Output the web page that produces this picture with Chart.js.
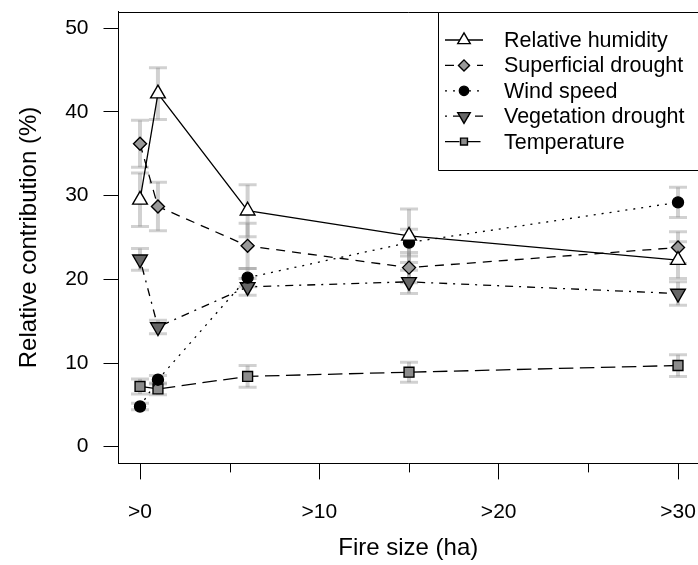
<!DOCTYPE html>
<html>
<head>
<meta charset="utf-8">
<script src="https://cdn.jsdelivr.net/npm/chart.js@4.4.1/dist/chart.umd.min.js"></script>
<style>
  html, body { margin: 0; padding: 0; background: #fff; overflow: hidden; }
  #wrap { width: 698px; height: 565px; }
</style>
</head>
<body>
<div id="wrap"><canvas id="fireChart" width="698" height="565"></canvas></div>
<script>
// --- datos ---
const fireSize = [0, 1, 6, 15, 30];
const xTicks = [0, 10, 20, 30];
const xMinorTicks = [5, 15, 25];
const yTicks = [0, 10, 20, 30, 40, 50];

const relHumidity        = [29.5, 42.2, 28.2, 25.2, 22.3];
const relHumidityErr     = [3.2, 3.1, 3.1, 3.2, 2.2];
const superficialDrought = [36.2, 28.7, 24.0, 21.4, 23.8];
const superficialErr     = [2.8, 2.9, 2.7, 1.8, 1.9];
const windSpeed          = [4.8, 8.0, 20.2, 24.4, 29.2];
const windSpeedErr       = [0.4, 0.5, 1.1, 1.6, 1.8];
const vegetationDrought  = [22.4, 14.3, 19.1, 19.7, 18.3];
const vegetationErr      = [1.3, 0.8, 1.0, 1.4, 1.4];
const temperature        = [7.2, 6.9, 8.4, 8.9, 9.7];
const temperatureErr     = [0.9, 0.7, 1.3, 1.2, 1.3];

const FONT = 'Liberation Sans, Arial, Helvetica, sans-serif';
Chart.defaults.color = '#000';
Chart.defaults.font.family = FONT;

function serie(label, values, errors, style) {
    return Object.assign({
        label: label,
        data: fireSize.map((x, i) => ({ x: x, y: values[i] })),
        errors: errors,
        showLine: true,
        borderColor: '#000',
        borderWidth: 1.3,
        pointBorderColor: '#000',
        pointBorderWidth: 1.4,
        tension: 0,
        fill: false
    }, style);
}

const datasets = [
    serie('Relative humidity', relHumidity, relHumidityErr,
        { borderDash: [], pointStyle: 'triangle', pointRadius: 8.5, pointBackgroundColor: '#fff', legendScale: 0.85 }),
    serie('Superficial drought', superficialDrought, superficialErr,
        { borderDash: [9, 7], pointStyle: 'rectRot', pointRadius: 6.5, pointBackgroundColor: '#999', legendScale: 0.85 }),
    serie('Wind speed', windSpeed, windSpeedErr,
        { borderDash: [2, 6], pointStyle: 'circle', pointRadius: 5.5, pointBackgroundColor: '#000', legendScale: 0.85 }),
    serie('Vegetation drought', vegetationDrought, vegetationErr,
        { borderDash: [2, 6, 8, 6], pointStyle: 'triangle', pointRotation: 180, pointRadius: 8.5, pointBackgroundColor: '#666', legendScale: 0.85 }),
    serie('Temperature', temperature, temperatureErr,
        { borderDash: [14.5, 6.5], pointStyle: 'rect', pointRadius: 7, pointBackgroundColor: '#8c8c8c', legendScale: 0.7 })
];

// barras de error grises debajo de las lineas
const errorBars = {
    id: 'errorBars',
    beforeDatasetsDraw(chart) {
        const ctx = chart.ctx;
        const xs = chart.scales.x, ys = chart.scales.y;
        ctx.save();
        ctx.strokeStyle = 'rgba(140,140,140,0.4)';
        chart.data.datasets.forEach(ds => {
            ds.data.forEach((p, i) => {
                const e = ds.errors[i];
                const px = xs.getPixelForValue(p.x);
                const top = ys.getPixelForValue(p.y + e);
                const bot = ys.getPixelForValue(p.y - e);
                ctx.lineWidth = 4;
                ctx.beginPath();
                ctx.moveTo(px, top);
                ctx.lineTo(px, bot);
                ctx.stroke();
                ctx.lineWidth = 3;
                ctx.beginPath();
                ctx.moveTo(px - 9, top); ctx.lineTo(px + 9, top);
                ctx.moveTo(px - 9, bot); ctx.lineTo(px + 9, bot);
                ctx.stroke();
            });
        });
        ctx.restore();
    }
};

// marco superior, ticks menores y leyenda
const frameAndLegend = {
    id: 'frameAndLegend',
    afterDraw(chart) {
        const ctx = chart.ctx;
        const area = chart.chartArea;
        const xs = chart.scales.x;
        ctx.save();
        ctx.strokeStyle = '#000';
        ctx.lineWidth = 1;
        ctx.beginPath();
        ctx.moveTo(area.left, Math.round(area.top) + 0.5);
        ctx.lineTo(area.right, Math.round(area.top) + 0.5);
        xMinorTicks.forEach(v => {
            const px = Math.round(xs.getPixelForValue(v)) + 0.5;
            ctx.moveTo(px, area.bottom);
            ctx.lineTo(px, area.bottom + 9);
        });
        ctx.stroke();

        // leyenda
        const boxLeft = 438.5, boxTop = Math.round(area.top) + 0.5, boxBottom = 170.5;
        ctx.fillStyle = '#fff';
        ctx.fillRect(boxLeft, boxTop, 698 - boxLeft, boxBottom - boxTop);
        ctx.beginPath();
        ctx.moveTo(700, boxTop);
        ctx.lineTo(boxLeft, boxTop);
        ctx.lineTo(boxLeft, boxBottom);
        ctx.lineTo(700, boxBottom);
        ctx.stroke();

        ctx.font = '21.5px ' + FONT;
        ctx.textBaseline = 'middle';
        ctx.textAlign = 'left';
        chart.data.datasets.forEach((ds, i) => {
            const y = 40 + i * 25.4;
            ctx.strokeStyle = '#000';
            ctx.lineWidth = ds.borderWidth;
            ctx.setLineDash(ds.borderDash);
            ctx.beginPath();
            ctx.moveTo(445, y);
            ctx.lineTo(483, y);
            ctx.stroke();
            ctx.setLineDash([]);
            ctx.fillStyle = ds.pointBackgroundColor;
            ctx.lineWidth = ds.pointBorderWidth;
            Chart.helpers.drawPoint(ctx, {
                pointStyle: ds.pointStyle,
                rotation: ds.pointRotation || 0,
                radius: ds.pointRadius * ds.legendScale,
                borderWidth: ds.pointBorderWidth
            }, 464, y);
            ctx.fillStyle = '#000';
            ctx.fillText(ds.label, 504, y + 1);
        });
        ctx.restore();
    }
};

new Chart(document.getElementById('fireChart').getContext('2d'), {
    type: 'scatter',
    data: { datasets: datasets },
    plugins: [errorBars, frameAndLegend],
    options: {
        responsive: false,
        animation: false,
        layout: { autoPadding: false, padding: { top: 11.6, left: 0, right: 0, bottom: 0 } },
        plugins: {
            legend: { display: false },
            tooltip: { enabled: false }
        },
        scales: {
            x: {
                type: 'linear',
                min: -1.2,
                max: 31.115,
                afterBuildTicks: s => { s.ticks = xTicks.map(v => ({ value: v })); },
                afterFit: s => {
                    s.height = 101.6;
                    s.paddingLeft = 0;
                    s.paddingRight = 0;
                },
                ticks: {
                    callback: v => '>' + v,
                    font: { size: 21 },
                    color: '#000',
                    padding: 20,
                    maxRotation: 0,
                    autoSkip: false
                },
                grid: { drawOnChartArea: false, tickLength: 16, color: '#000' },
                border: { color: '#000', width: 1 },
                title: {
                    display: true,
                    text: 'Fire size (ha)',
                    font: { size: 24 },
                    color: '#000',
                    padding: { top: 0, bottom: 2 }
                }
            },
            y: {
                min: -2,
                max: 52,
                afterBuildTicks: s => { s.ticks = yTicks.map(v => ({ value: v })); },
                afterFit: s => {
                    s.width = 118.5;
                    s.paddingTop = 0;
                    s.paddingBottom = 0;
                },
                ticks: {
                    font: { size: 21 },
                    color: '#000',
                    padding: 15
                },
                grid: { drawOnChartArea: false, tickLength: 15, color: '#000' },
                border: { color: '#000', width: 1 },
                title: {
                    display: true,
                    text: 'Relative contribution (%)',
                    font: { size: 24 },
                    color: '#000',
                    padding: { top: 15, bottom: 0 }
                }
            }
        }
    }
});
</script>
</body>
</html>
